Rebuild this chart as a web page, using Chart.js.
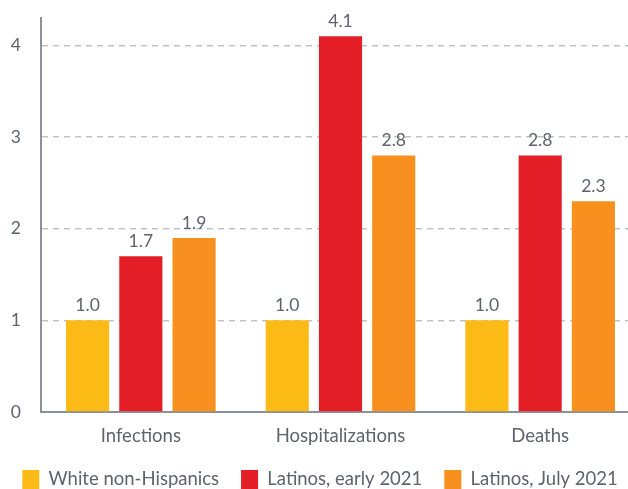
<!DOCTYPE html>
<html><head><meta charset="utf-8">
<script src="https://cdn.jsdelivr.net/npm/chart.js@4/dist/chart.umd.min.js"></script>
<style>
html,body{margin:0;padding:0;background:#fff;overflow:hidden;width:628px;height:489px;}
#wrap{position:relative;width:642px;height:489px;}
</style></head>
<body><div id="wrap"><canvas id="c"></canvas></div>
<script>
const categories = ["Infections", "Hospitalizations", "Deaths"];
const seriesNames = ["White non-Hispanics", "Latinos, early 2021", "Latinos, July 2021"];
const whiteNonHispanics = [1.0, 1.0, 1.0];
const latinosEarly2021 = [1.7, 4.1, 2.8];
const latinosJuly2021 = [1.9, 2.8, 2.3];
const yTicks = [0, 1, 2, 3, 4];
const colors = ["#FBBA16", "#E31E27", "#F7901E"];

const FONT = "Lato, 'Open Sans', sans-serif";
const TXT = "#5f636b";

const valueLabels = {
  id: "valueLabels",
  afterDatasetsDraw(chart) {
    const ctx = chart.ctx;
    ctx.save();
    ctx.font = "17.5px " + FONT;
    ctx.fillStyle = TXT;
    ctx.textAlign = "center";
    ctx.textBaseline = "bottom";
    chart.data.datasets.forEach((ds, i) => {
      chart.getDatasetMeta(i).data.forEach((bar, j) => {
        ctx.fillText(ds.data[j].toFixed(1), bar.x, bar.y - 6);
      });
    });
    ctx.restore();
  }
};

new Chart(document.getElementById("c"), {
  type: "bar",
  data: {
    labels: categories,
    datasets: [
      { label: seriesNames[0], data: whiteNonHispanics, backgroundColor: colors[0] },
      { label: seriesNames[1], data: latinosEarly2021, backgroundColor: colors[1] },
      { label: seriesNames[2], data: latinosJuly2021, backgroundColor: colors[2] }
    ]
  },
  options: {
    responsive: true,
    maintainAspectRatio: false,
    animation: false,
    categoryPercentage: 0.8,
    barPercentage: 0.81,
    layout: { padding: { top: 18, left: 0, right: 2, bottom: 0 } },
    plugins: {
      tooltip: { enabled: false },
      legend: {
        position: "bottom",
        maxHeight: 41,
        labels: {
          font: { family: FONT, size: 18.5 },
          color: TXT,
          boxWidth: 17,
          boxHeight: 19,
          padding: 22,
          useBorderRadius: false
        }
      }
    },
    scales: {
      x: {
        afterFit(axis) { axis.height = 36; axis.paddingLeft = 0; axis.paddingRight = 0; },
        grid: { display: false, drawTicks: false },
        border: { display: true, color: "#8c9097", width: 2 },
        ticks: { font: { family: FONT, size: 18.5 }, color: TXT, padding: 13 }
      },
      y: {
        min: 0, max: 4.3,
        afterBuildTicks(axis) { axis.ticks = yTicks.map(v => ({ value: v })); },
        afterFit(axis) { axis.width = 41; axis.paddingTop = 0; axis.paddingBottom = 0; },
        grid: {
          color: (c) => c.tick && c.tick.value === 0 ? "rgba(0,0,0,0)" : "#bfc3c8",
          lineWidth: 1.5,
          drawTicks: false
        },
        border: { display: true, color: "#8c9097", width: 2, dash: [6, 5], dashOffset: 0 },
        ticks: { font: { family: FONT, size: 17.5 }, color: TXT, padding: 20 }
      }
    }
  },
  plugins: [valueLabels]
});
</script>
</body></html>
